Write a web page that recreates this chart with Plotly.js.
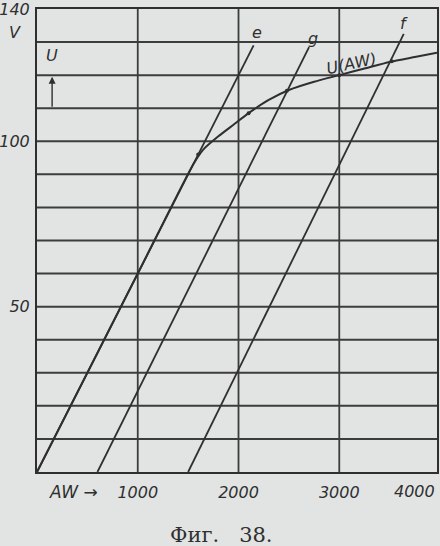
<!DOCTYPE html>
<html><head><meta charset="utf-8">
<script src="https://cdn.plot.ly/plotly-3.0.1.min.js"></script>
<style>body{margin:0;background:#e1e4e2;}#chart{width:440px;height:546px;}</style>
</head><body><div id="chart"></div>
<script>
// Magnetisation curve U(AW)
const uAW = [0, 1000, 1550, 1650, 1800, 1950, 2100, 2300, 2500, 2750, 3000, 3250, 3500, 3750, 3970];
const uV  = [0, 60, 93, 97.5, 101.5, 105, 108.5, 112.5, 115.5, 118, 120, 122, 124, 125.5, 126.8];
// Straight load lines e, g, f
const eAW = [0, 2150], eV = [0, 129];
const gAW = [600, 2700], gV = [0, 128.5];
const fAW = [1500, 3640], fV = [0, 132.5];
// Marked points on the curve
const dotAW = [1600, 2100, 2480, 3000, 3520];
const dotV  = [96, 108.5, 115.3, 120, 124.2];
// Tick labels
const xTicks = [1000, 2000, 3000], xTickText = ['1000', '2000', '3000'];
const yTicks = [50, 100, 140], yTickText = ['50', '100', '140'];
const xGrid = [1000, 2000, 3000];
const yGrid = [10,20,30,40,50,60,70,80,90,100,110,120,130];

const ink = '#2f2f30';
const gridInk = '#3c3c3e';
const lineStyle = {color: ink, width: 1.8};
const hand = {family: 'DejaVu Sans', size: 16, color: ink, style: 'italic'};

const traces = [
  {x: uAW, y: uV, mode: 'lines', line: {color: ink, width: 2, shape: 'spline', smoothing: 0.6}, hoverinfo: 'skip'},
  {x: eAW, y: eV, mode: 'lines', line: lineStyle, hoverinfo: 'skip'},
  {x: gAW, y: gV, mode: 'lines', line: lineStyle, hoverinfo: 'skip'},
  {x: fAW, y: fV, mode: 'lines', line: lineStyle, hoverinfo: 'skip'},
  {x: dotAW, y: dotV, mode: 'markers', marker: {color: ink, size: 4}, hoverinfo: 'skip'}
];

const shapes = yGrid.map(v => ({type: 'line', xref: 'paper', x0: 0, x1: 1, yref: 'y', y0: v, y1: v,
                           line: {color: gridInk, width: 2}, layer: 'below'}))
  .concat(xGrid.map(v => ({type: 'line', yref: 'paper', y0: 0, y1: 1, xref: 'x', x0: v, x1: v,
                           line: {color: gridInk, width: 1.8}, layer: 'below'})));

const layout = {
  width: 440, height: 546,
  margin: {l: 37, r: 3, t: 9, b: 74},
  paper_bgcolor: '#e1e4e2', plot_bgcolor: '#e1e4e2',
  showlegend: false,
  font: hand,
  xaxis: {
    range: [0, 3970], tickvals: xTicks, ticktext: xTickText,
    showgrid: false,
    showline: true, mirror: true, linecolor: ink, linewidth: 2,
    zeroline: false, ticks: '', tickfont: hand, ticklabelstandoff: 5
  },
  yaxis: {
    range: [0, 140], tickvals: yTicks, ticktext: yTickText,
    showgrid: false, ticklabeloverflow: 'allow',
    showline: true, mirror: true, linecolor: ink, linewidth: 2,
    zeroline: false, ticks: '', tickfont: hand, ticklabelstandoff: 2
  },
  shapes: shapes,
  annotations: [
    {xref: 'paper', yref: 'paper', x: -0.055, y: 0.95, xanchor: 'center', yanchor: 'middle', text: 'V', showarrow: false, font: hand},
    {xref: 'x', yref: 'y', x: 150, y: 126, text: 'U', showarrow: false, font: hand},
    {xref: 'x', yref: 'y', x: 150, y: 119.5, ax: 150, ay: 110, axref: 'x', ayref: 'y',
     text: '', showarrow: true, arrowhead: 2, arrowsize: 1, arrowwidth: 1.4, arrowcolor: ink, standoff: 0},
    {xref: 'x', yref: 'y', x: 2180, y: 133, text: 'e', showarrow: false, font: hand},
    {xref: 'x', yref: 'y', x: 2740, y: 131, text: 'g', showarrow: false, font: hand},
    {xref: 'x', yref: 'y', x: 3640, y: 135.5, text: 'f', showarrow: false, font: hand},
    {xref: 'x', yref: 'y', x: 3120, y: 123.5, text: 'U(AW)', showarrow: false, textangle: -12, font: hand},
    {xref: 'paper', yref: 'paper', x: 0.025, y: -0.018, yanchor: 'top', xanchor: 'left', text: 'AW →', showarrow: false,
     font: {family: 'DejaVu Sans', size: 17, color: ink, style: 'italic'}},
    {xref: 'paper', yref: 'paper', x: 1.0, y: -0.018, yanchor: 'top', xanchor: 'right', text: '4000', showarrow: false, font: hand},
    {xref: 'paper', yref: 'paper', x: 0.46, y: -0.105, yanchor: 'top', text: 'Фиг.   38.', showarrow: false,
     font: {family: 'DejaVu Serif, Liberation Serif', size: 21, color: ink, style: 'normal'}}
  ]
};

Plotly.newPlot('chart', traces, layout, {displayModeBar: false, staticPlot: true});
</script>
</body></html>
